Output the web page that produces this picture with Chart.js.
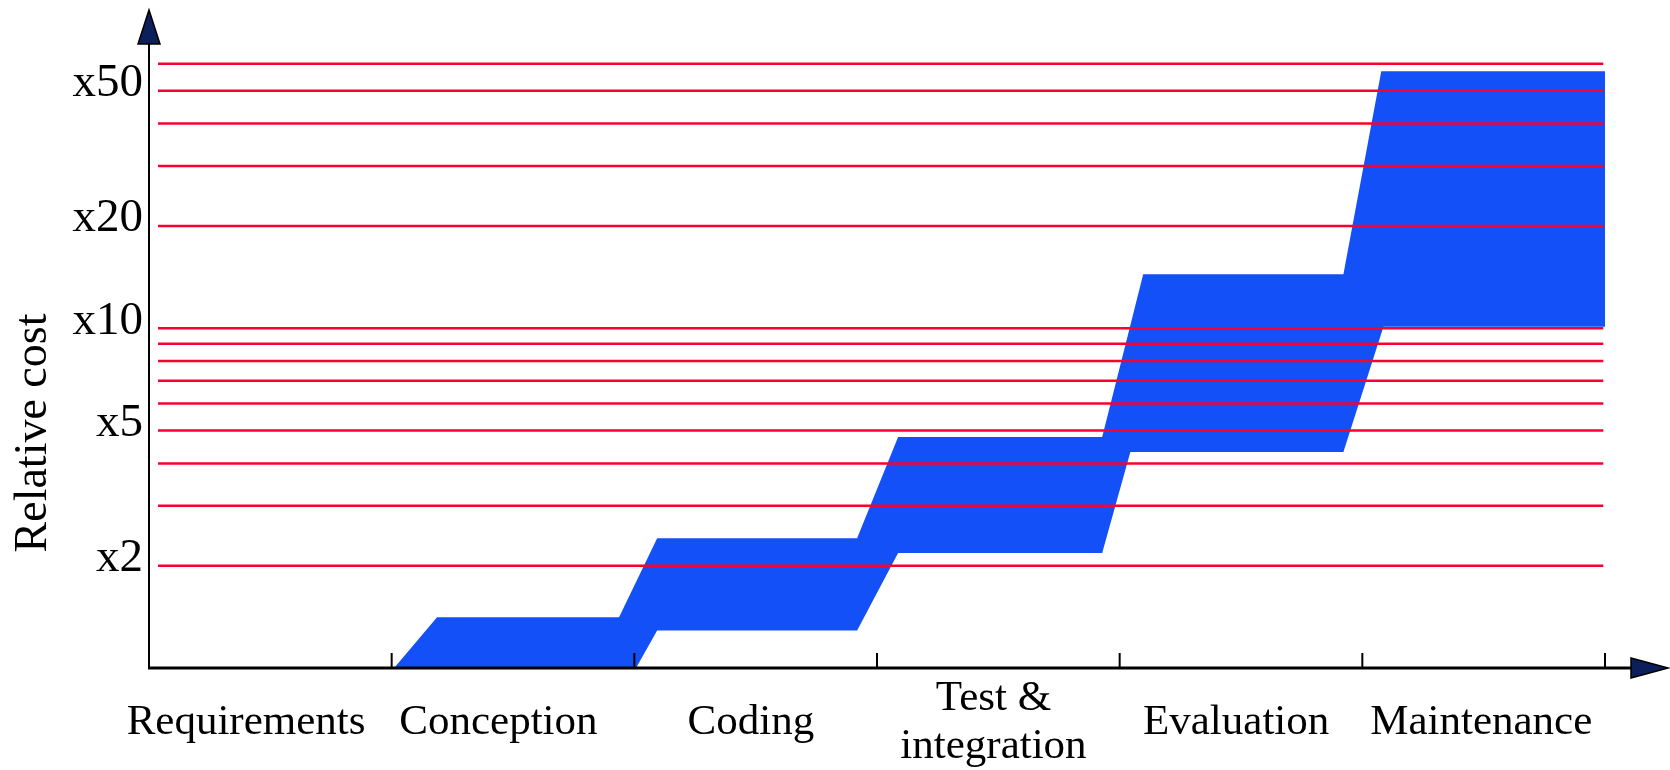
<!DOCTYPE html>
<html>
<head>
<meta charset="utf-8">
<script src="https://cdn.jsdelivr.net/npm/chart.js@4/dist/chart.umd.min.js"></script>
<style>
  body { margin: 0; background: #fff; }
  canvas { display: block; }
</style>
</head>
<body>
<canvas id="costChart" width="1670" height="770"></canvas>
<script>
// phases along the x axis (one per unit interval)
const stageLabels = ['Requirements', 'Conception', 'Coding', ['Test &', 'integration'], 'Evaluation', 'Maintenance'];
const stageTickPos = [0.4, 1.44, 2.48, 3.48, 4.48, 5.49];
const stageBoundaries = [1, 2, 3, 4, 5, 6];

// y axis (log scale)
const yTickValues = [2, 5, 10, 20, 50];
const yTickLabels = ['x2', 'x5', 'x10', 'x20', 'x50'];
const gridValues = [2, 3, 4, 5, 6, 7, 8, 9, 10, 20, 30, 40, 50, 60];
const gridStart = 0.037;
const gridEnd = 5.993;
const yTitle = 'Relative cost';

// cost band: upper and lower edges
const upperX = [1.01, 1.187, 1.937, 2.094, 2.918, 3.087, 3.928, 4.097, 4.922, 5.078, 6.0];
const upperY = [1.0, 1.41, 1.41, 2.41, 2.41, 4.78, 4.78, 14.4, 14.4, 57.0, 57.0];
const lowerX = [1.01, 2.007, 2.094, 2.918, 3.087, 3.928, 4.044, 4.922, 5.087, 6.0];
const lowerY = [1.0, 1.0, 1.29, 1.29, 2.18, 2.18, 4.32, 4.32, 10.1, 10.1];

const RED = '#f8002f';
const BLUE = '#1450f8';
const NAVY = '#0c1f5a';
const SERIF = '"Liberation Serif", "Times New Roman", serif';

const zip = (xs, ys) => xs.map((x, i) => ({ x: x, y: ys[i] }));

const gridSets = gridValues.map(v => ({
    type: 'line',
    data: [{ x: gridStart, y: v }, { x: gridEnd, y: v }],
    borderColor: RED,
    borderWidth: 2.5,
    pointRadius: 0,
    fill: false,
    order: 0
}));

const axesPlugin = {
    id: 'axesArrows',
    afterDatasetsDraw(chart) {
        const { ctx, chartArea, scales } = chart;
        const x0 = chartArea.left, y0 = chartArea.bottom;
        ctx.save();
        ctx.strokeStyle = '#000';

        // y axis line
        ctx.lineWidth = 2;
        ctx.beginPath();
        ctx.moveTo(x0, y0 + 1);
        ctx.lineTo(x0, 43);
        ctx.stroke();

        // x axis line
        ctx.lineWidth = 3;
        ctx.beginPath();
        ctx.moveTo(x0 - 1, y0);
        ctx.lineTo(1632, y0);
        ctx.stroke();

        // small tick marks at stage boundaries
        ctx.lineWidth = 2;
        stageBoundaries.forEach(v => {
            const px = scales.x.getPixelForValue(v);
            ctx.beginPath();
            ctx.moveTo(px, y0);
            ctx.lineTo(px, y0 - 15);
            ctx.stroke();
        });

        // arrow heads
        ctx.fillStyle = NAVY;
        ctx.lineWidth = 1.5;
        ctx.beginPath();
        ctx.moveTo(x0, 10);
        ctx.lineTo(x0 - 11, 44);
        ctx.lineTo(x0 + 11, 44);
        ctx.closePath();
        ctx.fill();
        ctx.stroke();

        ctx.beginPath();
        ctx.moveTo(1668, y0);
        ctx.lineTo(1631, y0 - 10);
        ctx.lineTo(1631, y0 + 10);
        ctx.closePath();
        ctx.fill();
        ctx.stroke();

        // y axis title
        ctx.fillStyle = '#000';
        ctx.font = '46px ' + SERIF;
        ctx.textAlign = 'center';
        ctx.textBaseline = 'middle';
        ctx.translate(34, 433);
        ctx.rotate(-Math.PI / 2);
        ctx.fillText(yTitle, 0, 0);
        ctx.restore();
    }
};

new Chart(document.getElementById('costChart'), {
    type: 'line',
    data: {
        datasets: [
            ...gridSets,
            {
                label: 'lower',
                data: zip(lowerX, lowerY),
                borderWidth: 0,
                borderColor: BLUE,
                pointRadius: 0,
                fill: false,
                order: 1
            },
            {
                label: 'upper',
                data: zip(upperX, upperY),
                borderWidth: 0,
                borderColor: BLUE,
                backgroundColor: BLUE,
                pointRadius: 0,
                fill: '-1',
                order: 1
            }
        ]
    },
    options: {
        responsive: false,
        animation: false,
        layout: { padding: { top: 41, right: 65, bottom: 0, left: 0 } },
        plugins: {
            legend: { display: false },
            tooltip: { enabled: false }
        },
        scales: {
            x: {
                type: 'linear',
                min: 0,
                max: 6,
                grid: { display: false, drawTicks: false },
                border: { display: false },
                afterBuildTicks: scale => {
                    scale.ticks = stageTickPos.map(v => ({ value: v }));
                },
                afterFit: scale => { scale.height = 102; },
                ticks: {
                    autoSkip: false,
                    maxRotation: 0,
                    padding: 31,
                    crossAlign: 'center',
                    color: '#000',
                    font: { family: SERIF, size: 43, lineHeight: 1.12 },
                    callback: (val, i) => stageLabels[i]
                }
            },
            y: {
                type: 'logarithmic',
                min: 1,
                max: 70,
                grid: { display: false, drawTicks: false },
                border: { display: false },
                afterBuildTicks: scale => {
                    scale.ticks = yTickValues.map(v => ({ value: v }));
                },
                afterFit: scale => { scale.width = 149; },
                ticks: {
                    autoSkip: false,
                    padding: 6,
                    labelOffset: -7,
                    color: '#000',
                    font: { family: SERIF, size: 47 },
                    callback: (val, i) => yTickLabels[i]
                }
            }
        }
    },
    plugins: [axesPlugin]
});
</script>
</body>
</html>
